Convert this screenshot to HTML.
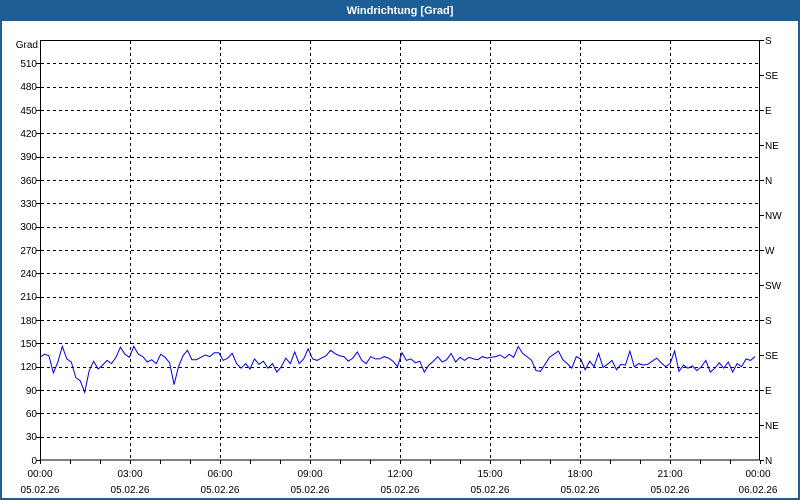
<!DOCTYPE html>
<html><head><meta charset="utf-8"><style>
html,body{margin:0;padding:0;width:800px;height:500px;overflow:hidden;background:#fff}
svg text{font-family:"Liberation Sans",sans-serif;font-size:10px;fill:#000}
</style></head><body>
<svg id="s" width="800" height="500" xmlns="http://www.w3.org/2000/svg">
<rect x="0" y="0" width="800" height="500" fill="#1d5e96"/>
<rect x="2" y="21" width="796" height="477" fill="#fff"/>
<text x="400" y="14" text-anchor="middle" style="fill:#fff;font-weight:bold;font-size:11px">Windrichtung [Grad]</text>
<g id="grid" stroke="#000" stroke-dasharray="3,3" stroke-width="1"></g>
<rect x="40.5" y="40.5" width="719" height="419.5" fill="none" stroke="#000"/>
<polyline id="pl" fill="none" stroke="#0000e0" stroke-width="1"/>
<text x="38" y="48" text-anchor="end">Grad</text>
<g text-anchor="end">
<text x="37" y="67">510</text><text x="37" y="90">480</text><text x="37" y="114">450</text><text x="37" y="137">420</text><text x="37" y="160">390</text><text x="37" y="184">360</text><text x="37" y="207">330</text><text x="37" y="230">300</text><text x="37" y="254">270</text><text x="37" y="277">240</text><text x="37" y="300">210</text><text x="37" y="324">180</text><text x="37" y="347">150</text><text x="37" y="370">120</text><text x="37" y="394">90</text><text x="37" y="417">60</text><text x="37" y="440">30</text><text x="37" y="464">0</text>
</g>
<g>
<text x="765" y="44">S</text><text x="765" y="79">SE</text><text x="765" y="114">E</text><text x="765" y="149">NE</text><text x="765" y="184">N</text><text x="765" y="219">NW</text><text x="765" y="254">W</text><text x="765" y="289">SW</text><text x="765" y="324">S</text><text x="765" y="359">SE</text><text x="765" y="394">E</text><text x="765" y="429">NE</text><text x="765" y="464">N</text>
</g>
<g text-anchor="middle">
<text x="40" y="477">00:00</text><text x="40" y="493">05.02.26</text>
<text x="130" y="477">03:00</text><text x="130" y="493">05.02.26</text>
<text x="220" y="477">06:00</text><text x="220" y="493">05.02.26</text>
<text x="310" y="477">09:00</text><text x="310" y="493">05.02.26</text>
<text x="400" y="477">12:00</text><text x="400" y="493">05.02.26</text>
<text x="490" y="477">15:00</text><text x="490" y="493">05.02.26</text>
<text x="580" y="477">18:00</text><text x="580" y="493">05.02.26</text>
<text x="670" y="477">21:00</text><text x="670" y="493">05.02.26</text>
<text x="758" y="477">00:00</text><text x="758" y="493">06.02.26</text>
</g>
</svg>
<script>
var ns="http://www.w3.org/2000/svg",g=document.getElementById('grid');
function ln(p,x1,y1,x2,y2,solid){var l=document.createElementNS(ns,'line');l.setAttribute('x1',x1);l.setAttribute('y1',y1);l.setAttribute('x2',x2);l.setAttribute('y2',y2);l.setAttribute('stroke','#000');if(solid)l.setAttribute('stroke-dasharray','none');p.appendChild(l);}
function Y(d){return 460-d*420/540;}
for(var d=30;d<540;d+=30){var y=Math.round(Y(d))+0.5;ln(g,41,y,759,y);ln(g,36,y,40,y,1);}
ln(g,36,460.5,40,460.5,1);
for(var h=3;h<24;h+=3){var x=40+h*30+0.5;ln(g,x,41,x,460);}
for(var h=0;h<=24;h++){var x=40+h*30+0.5;ln(g,x,460,x,464,1);}
for(var d=0;d<=540;d+=45){var y=Math.round(Y(d))+0.5;ln(g,760,y,764,y,1);}
var v=[132,136,134,112,126,146,130,126,106,102,87,115,127,117,122,128,124,132,145,136,132,146,136,133,126,129,124,136,132,125,97,120,134,141,129,129,132,135,133,138,138,128,131,137,124,118,124,117,130,123,127,118,124,113,120,131,124,139,124,130,143,130,128,131,134,141,137,134,133,127,131,139,128,124,133,130,130,133,131,127,120,138,128,130,125,127,113,122,127,133,126,129,137,126,132,128,132,130,129,133,131,132,133,135,131,136,132,146,137,133,128,115,114,123,132,136,140,129,124,118,133,130,116,127,120,137,119,123,128,116,123,122,140,120,124,122,123,127,131,125,120,124,140,114,122,118,121,115,120,128,113,118,125,118,126,113,124,120,130,128,133];
var pts=[],n=v.length;for(var i=0;i<n;i++){pts.push((40+i*715/(n-1)).toFixed(1)+','+Y(v[i]).toFixed(1));}
document.getElementById('pl').setAttribute('points',pts.join(' '));
</script>
</body></html>
